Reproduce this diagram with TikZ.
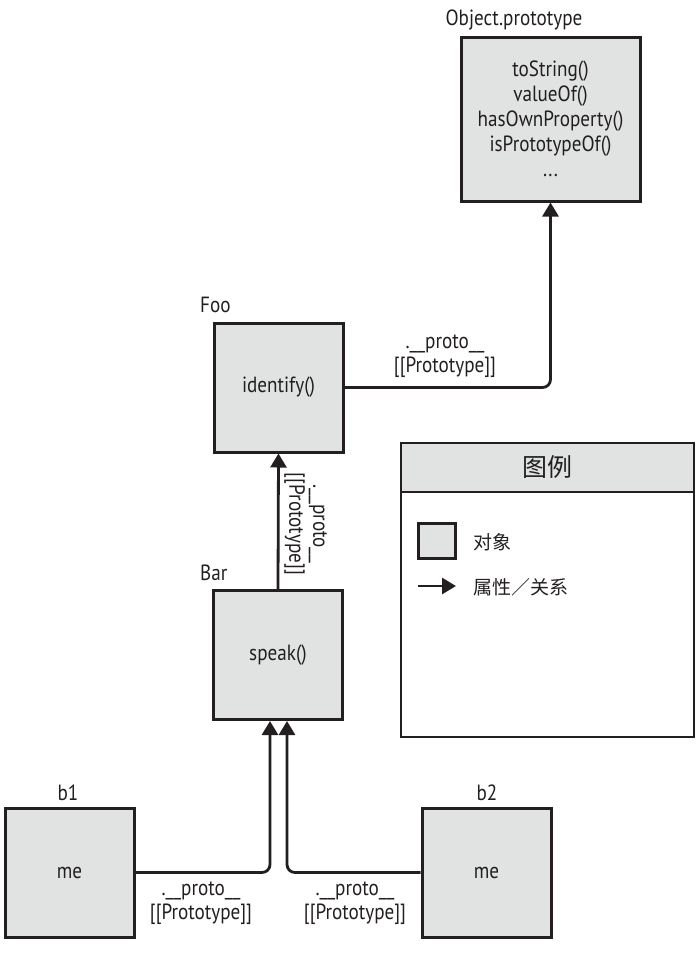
\documentclass[tikz,border=0pt]{standalone}
\usepackage{fontspec}
\setmainfont[FakeStretch=0.87]{PT Sans}
\newfontfamily\cjk{Noto Sans CJK SC}
\usetikzlibrary{arrows.meta}
\definecolor{ink}{HTML}{231F20}
\definecolor{boxfill}{HTML}{E1E3E3}
\newcommand{\protolbl}{.\_\_proto\_\_\\{}[[Prototype]]}
\begin{document}
\begin{tikzpicture}[x=1pt,y=-1pt,
  obj/.style={draw=ink, fill=boxfill, line width=3pt, minimum width=129pt, minimum height=129pt, inner sep=0pt, align=center, text=ink, font=\fontsize{22}{25}\selectfont},
  ttl/.style={text=ink, font=\fontsize{22}{22}\selectfont, inner sep=0pt},
  link/.style={draw=ink, line width=2.8pt, rounded corners=8pt, -{Triangle[width=16pt,length=14pt]}},
  lbl/.style={text=ink, align=center, font=\fontsize{22}{24}\selectfont, inner sep=1pt},
  cjktext/.style={text=ink, inner sep=0pt, font=\cjk\fontsize{19}{22}\selectfont}]
\useasboundingbox (0,0) rectangle (700,959);

% objects
\node[obj, minimum width=179pt, minimum height=164pt] (obj) at (550.5,119)
  {toString()\\valueOf()\\hasOwnProperty()\\isPrototypeOf()\\...};
\node[ttl] (objt) at (514,20) {Object.prototype};

\node[obj] (foo) at (278.5,387.5) {identify()};
\node[ttl, anchor=west] (foot) at (200,305) {Foo};

\node[obj] (bar) at (278,655) {speak()};
\node[ttl, anchor=west] (bart) at (200,573) {Bar};

\node[obj] (b1) at (69.5,872.5) {me};
\node[ttl] (b1t) at (68,793) {b1};

\node[obj] (b2) at (486.5,872.5) {me};
\node[ttl] (b2t) at (487,793) {b2};

% connectors
\draw[link] (foo.east) -| (obj.south);
\node[lbl] (l1) at (445,356) {\protolbl};

\draw[link] (bar.north) -- (foo.south);
\node[lbl, rotate=-90, anchor=south] (l2) at (283,524) {\protolbl};

\coordinate (bin1) at ([xshift=-8pt]bar.south);
\coordinate (bin2) at ([xshift=9pt]bar.south);
\draw[link] (b1.east) -| (bin1);
\draw[link] (b2.west) -| (bin2);
\node[lbl] (l3) at (201,903) {\protolbl};
\node[lbl] (l4) at (355,903) {\protolbl};

% legend
\node[draw=ink, line width=2.8pt, minimum width=293pt, minimum height=294pt, inner sep=0pt] (leg) at (547.5,590) {};
\node[draw=ink, fill=boxfill, line width=2.8pt, minimum width=293pt, minimum height=49pt, inner sep=0pt, anchor=north, text=ink, font=\cjk\fontsize{25}{28}\selectfont] (legh) at (leg.north) {图例};
\node[draw=ink, fill=boxfill, line width=3pt, minimum width=37pt, minimum height=35pt, inner sep=0pt] (legbox) at (436.5,540.5) {};
\node[cjktext, anchor=west] (legboxt) at (473,542) {对象};
\coordinate (la) at (418,586);
\coordinate (lb) at (456,586);
\draw[link] (la) -- (lb);
\node[cjktext, anchor=west] (legarrt) at (473,587) {属性／关系};
\end{tikzpicture}
\end{document}
